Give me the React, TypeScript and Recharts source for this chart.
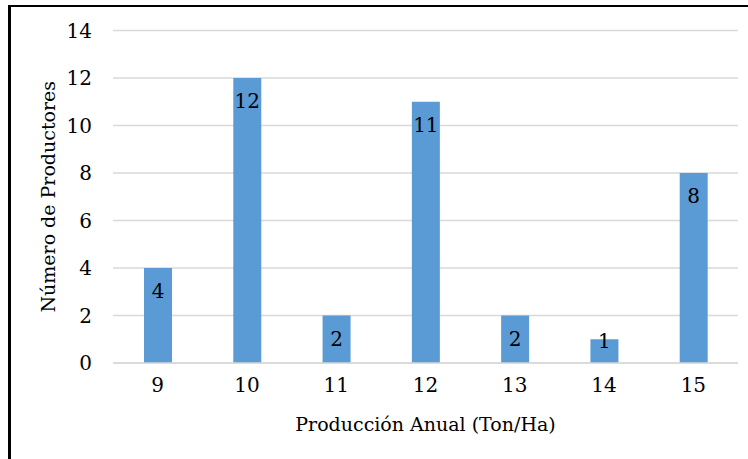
import { BarChart, Bar, XAxis, YAxis, CartesianGrid, LabelList } from 'recharts';

// producción anual (Ton/Ha) y número de productores
const produccion: string[] = ['9', '10', '11', '12', '13', '14', '15'];
const productores: number[] = [4, 12, 2, 11, 2, 1, 8];
const yTicks: number[] = [0, 2, 4, 6, 8, 10, 12, 14];

const data = produccion.map((p, i) => ({ produccion: p, productores: productores[i] }));

const serif = "'DejaVu Serif', serif";
const barBlue: string = '#5b9bd5';
const gridGray: string = '#d9d9d9';

// etiqueta dentro del extremo de la barra; en barras cortas se sube
const renderValue = (props: any) => {
    const { x, y, width, height, value } = props;
    const baseline = height > 35 ? y + 30 : y + 9;
    return (
        <text x={x + width / 2} y={baseline} textAnchor="middle" style={{ fontSize: 20, fontFamily: serif }} fill="#000">
            {value}
        </text>
    );
};

export default function App(): JSX.Element {
    return (
        <div style={{ position: 'absolute', left: 0, top: 0, width: 748, height: 459, overflow: 'hidden', background: '#fff', fontFamily: serif }}>
            <div
                style={{
                    position: 'absolute', left: 8, top: 5, width: 760, height: 480,
                    borderLeft: '3px solid #000', borderTop: '2px solid #000',
                }}
            />
            <div style={{ position: 'absolute', left: 0, top: 0 }}>
                <BarChart width={748} height={459} data={data} margin={{ top: 30.5, right: 10, left: 0, bottom: 0 }} style={{ fontFamily: serif }}>
                    <CartesianGrid vertical={false} stroke={gridGray} strokeWidth={1.5} />
                    <XAxis
                        dataKey="produccion"
                        height={96}
                        axisLine={{ stroke: gridGray, strokeWidth: 1.5 }}
                        tickLine={false}
                        tickMargin={9}
                        tick={{ fill: '#000', fontSize: 20, style: { fontFamily: serif } }}
                        label={{ value: 'Producción Anual (Ton/Ha)', position: 'insideBottom', offset: 28, fill: '#000', fontSize: 19, style: { fontFamily: serif } }}
                    />
                    <YAxis
                        width={113}
                        domain={[0, 14]}
                        ticks={yTicks}
                        axisLine={false}
                        tickLine={false}
                        tickMargin={15}
                        tick={{ fill: '#000', fontSize: 20, style: { fontFamily: serif } }}
                        label={{ value: 'Número de Productores', angle: -90, position: 'insideLeft', offset: 48, fill: '#000', fontSize: 19, style: { textAnchor: 'middle', fontFamily: serif } }}
                    />
                    <Bar dataKey="productores" fill={barBlue} barSize={28} isAnimationActive={false}>
                        <LabelList dataKey="productores" content={renderValue} />
                    </Bar>
                </BarChart>
            </div>
        </div>
    );
}
